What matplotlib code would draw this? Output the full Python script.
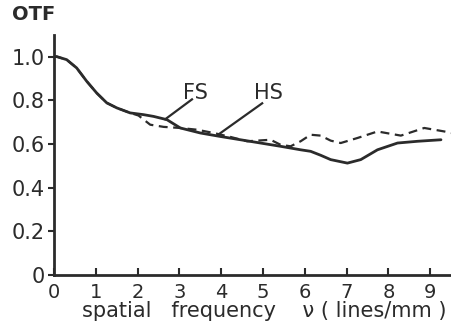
import matplotlib.pyplot as plt
import numpy as np

# FS curve (solid)
fs_x = [0, 0.06, 0.3, 0.54, 0.78, 1.02, 1.26, 1.5, 1.82, 2.14, 2.38, 2.7, 3.02, 3.5,
        3.98, 4.46, 4.94, 5.42, 5.9, 6.14, 6.38, 6.62, 7.02, 7.34, 7.74, 8.22, 8.7, 9.26]
fs_y = [1.0, 1.0, 0.986, 0.948, 0.887, 0.833, 0.788, 0.765, 0.742, 0.734, 0.726, 0.711,
        0.673, 0.65, 0.634, 0.619, 0.604, 0.589, 0.573, 0.566, 0.548, 0.528, 0.512,
        0.528, 0.573, 0.604, 0.612, 0.619]

# HS curve (dashed)
hs_x = [0, 0.06, 0.3, 0.54, 0.78, 1.02, 1.26, 1.5, 1.82, 2.02, 2.3, 2.62, 3.02, 3.42,
        3.82, 4.22, 4.62, 4.94, 5.18, 5.42, 5.66, 5.9, 6.14, 6.38, 6.62, 6.86, 7.26,
        7.74, 8.3, 8.86, 9.34, 9.5]
hs_y = [1.0, 1.0, 0.986, 0.948, 0.887, 0.833, 0.788, 0.765, 0.742, 0.73, 0.688, 0.678,
        0.673, 0.665, 0.65, 0.632, 0.612, 0.616, 0.619, 0.596, 0.589, 0.612, 0.642,
        0.638, 0.615, 0.604, 0.627, 0.657, 0.638, 0.673, 0.657, 0.65]

xticks = list(range(10))
yticks = [0, 0.2, 0.4, 0.6, 0.8, 1.0]
ytick_labels = ['0', '0.2', '0.4', '0.6', '0.8', '1.0']

ink = '#2b2b2b'

fig = plt.figure(figsize=(4.51, 3.28), dpi=100)
ax = fig.add_axes([0.12, 0.162, 0.88, 0.732])

ax.plot(fs_x, fs_y, color=ink, lw=2.0, solid_capstyle='round', solid_joinstyle='round')
ax.plot(hs_x, hs_y, color=ink, lw=1.6, ls=(0, (4, 2.5)))

# labels with leader lines
ax.text(3.38, 0.835, 'FS', fontsize=15, color=ink, ha='center', va='center')
ax.plot([3.3, 2.66], [0.804, 0.713], color=ink, lw=1.6)
ax.text(5.14, 0.835, 'HS', fontsize=15, color=ink, ha='center', va='center')
ax.plot([4.98, 3.94], [0.786, 0.644], color=ink, lw=1.6)

ax.set_xlim(0, 9.5)
ax.set_ylim(0, 1.1)
ax.set_xticks(xticks)
ax.set_yticks(yticks)
ax.set_yticklabels(ytick_labels)
ax.tick_params(axis='x', direction='in', length=5, width=1.5, labelsize=14,
               pad=6, colors=ink)
ax.tick_params(axis='y', direction='out', length=4, width=1.5, labelsize=15,
               pad=3, colors=ink)
for s in ['top', 'right']:
    ax.spines[s].set_visible(False)
for s in ['left', 'bottom']:
    ax.spines[s].set_linewidth(2)
    ax.spines[s].set_color(ink)

ax.set_xlabel('spatial   frequency    \u03bd ( lines/mm )', fontsize=15, color=ink,
              labelpad=-1, x=0.53)
fig.text(0.027, 0.955, 'OTF', fontsize=14, fontweight='bold', color=ink,
         ha='left', va='center')

fig.savefig('out.png', dpi=100)
